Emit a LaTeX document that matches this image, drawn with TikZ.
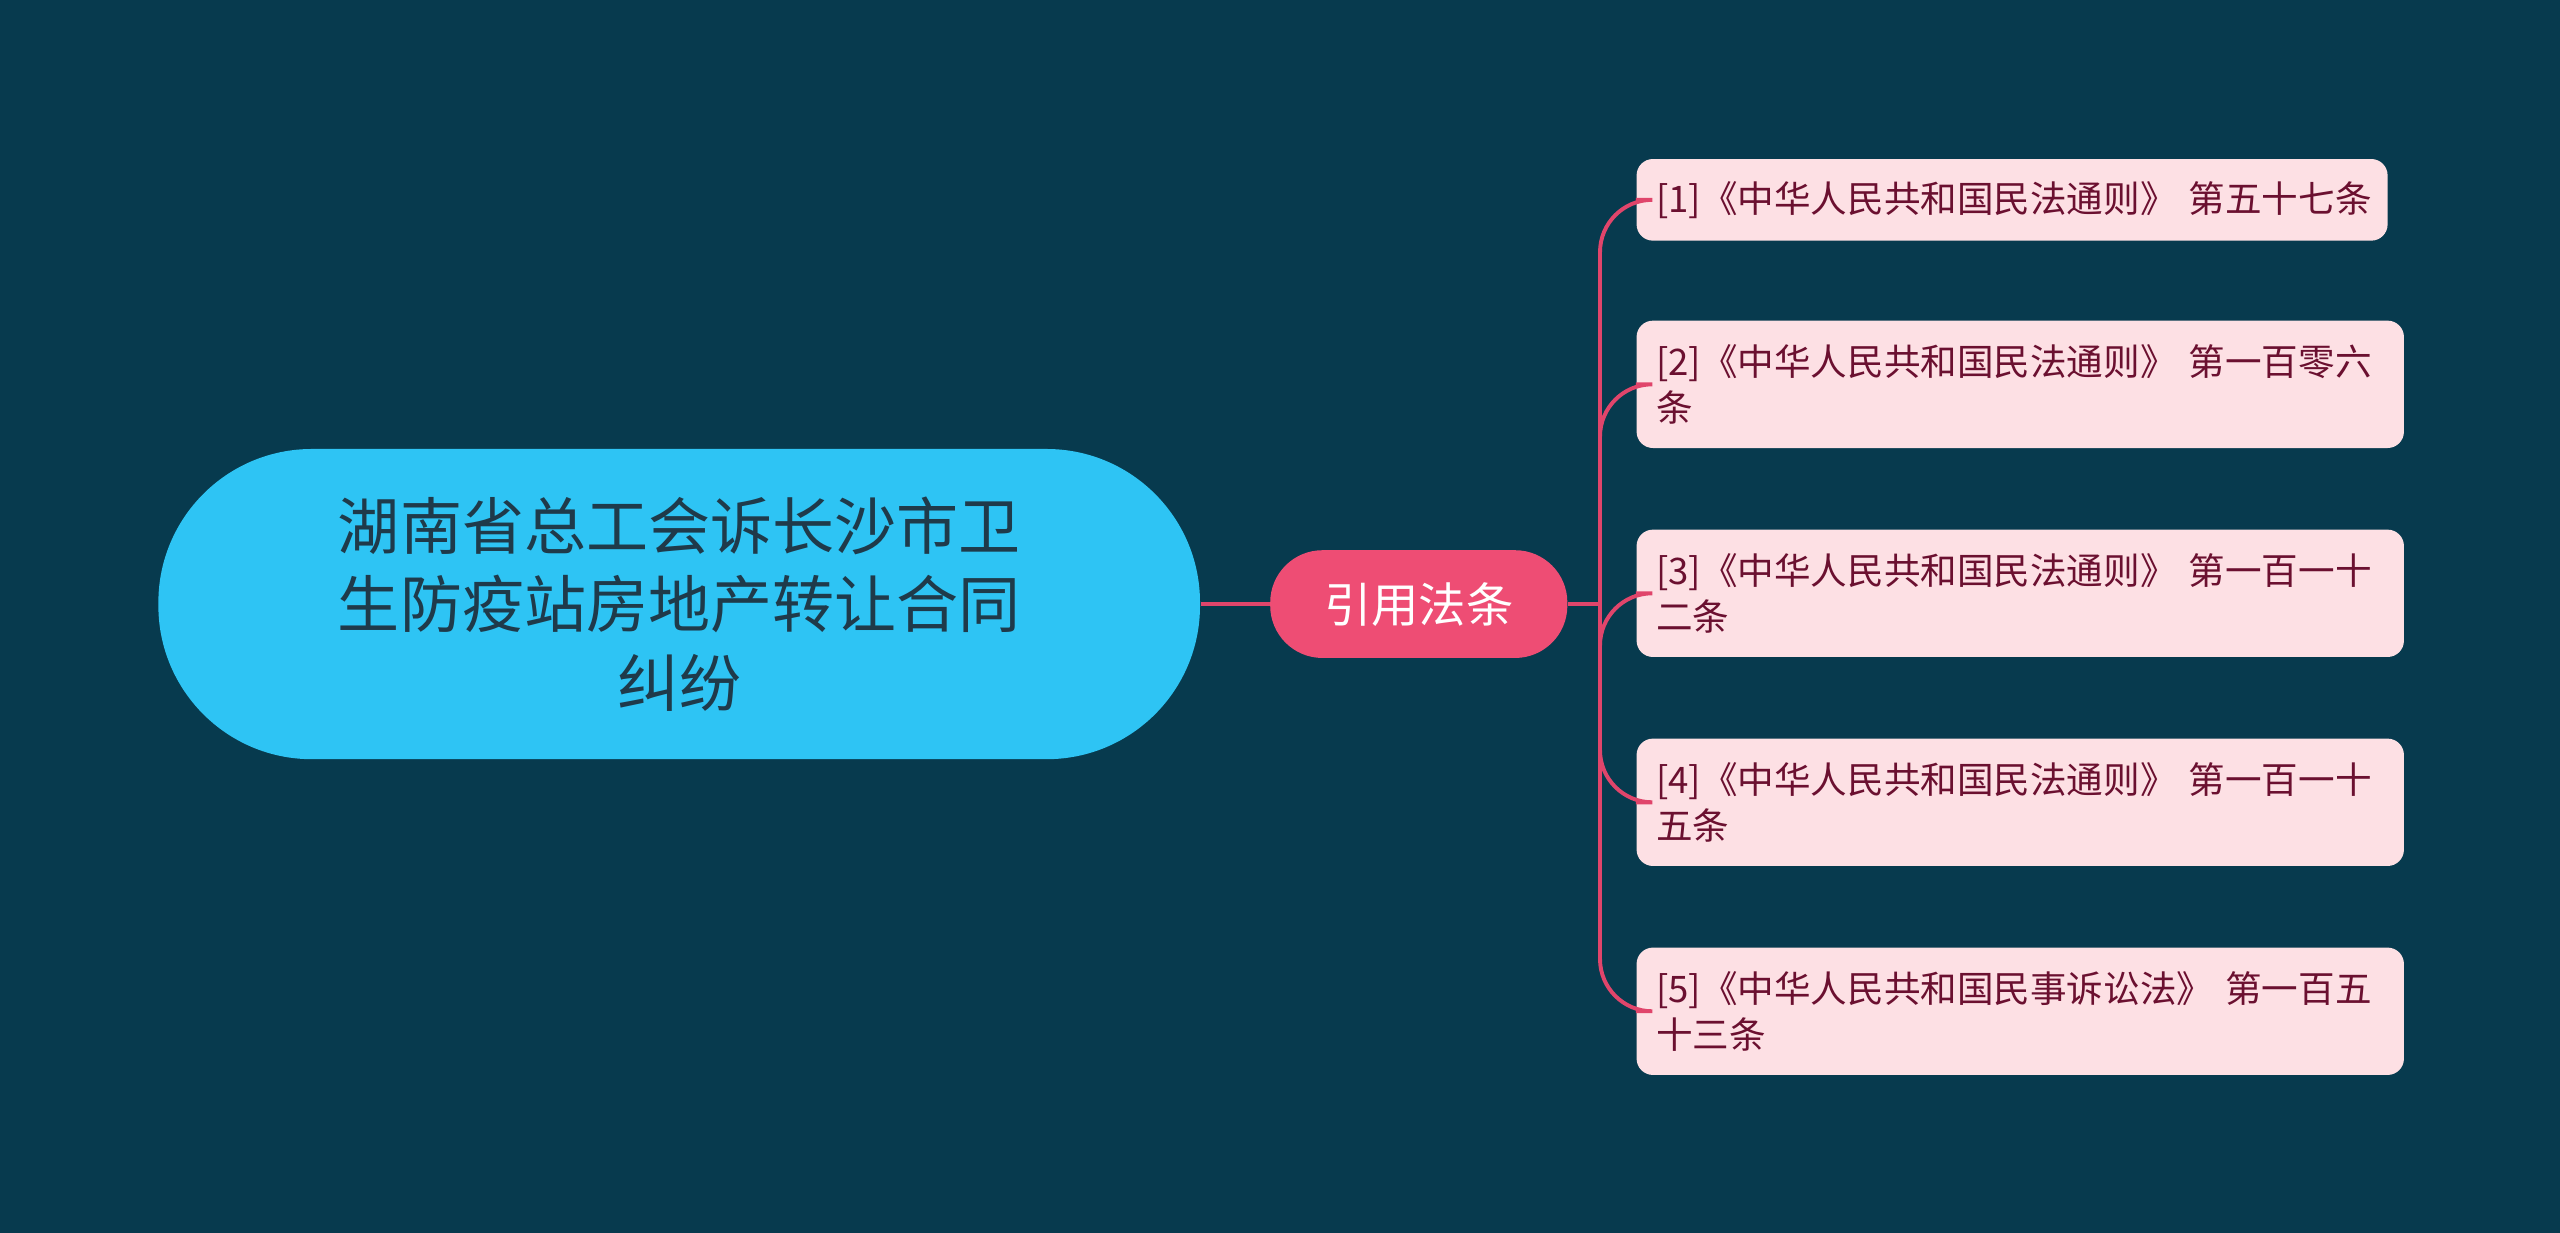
\documentclass[tikz,border=0pt]{standalone}
\usepackage{fontspec}
\setmainfont{Noto Sans CJK SC}
\begin{document}
\begin{tikzpicture}[x=0.5pt,y=-0.5pt,
  leaf/.style={draw=none,fill=leafpink,rounded corners=5pt,anchor=north west,minimum height=#1,text width=223pt,align=left,inner xsep=6pt,font=\fontsize{11.2}{14}\selectfont,text=leaftext},
  conn/.style={draw=linecol,line width=1.2pt}]
\definecolor{bg}{HTML}{073A4E}
\definecolor{rootcol}{HTML}{2EC4F4}
\definecolor{midcol}{HTML}{EE4D74}
\definecolor{leafpink}{HTML}{FDE0E4}
\definecolor{leaftext}{HTML}{6B1030}
\definecolor{linecol}{HTML}{E0456B}
\definecolor{roottext}{HTML}{1F3A4A}
\fill[bg] (0,0) rectangle (1568,755);
\useasboundingbox (0,0) rectangle (1568,755);
\node[fill=rootcol,rounded corners=47pt,minimum width=319pt,minimum height=95pt,align=center,text=roottext,font=\fontsize{19}{24}\selectfont] (root) at (416,370) {湖南省总工会诉长沙市卫\\生防疫站房地产转让合同\\纠纷};
\node[fill=midcol,rounded corners=16pt,minimum width=91pt,minimum height=33pt,text=white,font=\fontsize{14.5}{17}\selectfont] (mid) at (869,370) {引用法条};
\node[leaf=25pt,text width=218pt] (l1) at (1002,97) {\mbox{[1]《中华人民共和国民法通则》 第五十七条}};
\node[leaf=39pt] (l2) at (1002,196) {[2]《中华人民共和国民法通则》 第一百零六\\条};
\node[leaf=39pt] (l3) at (1002,324) {[3]《中华人民共和国民法通则》 第一百一十\\二条};
\node[leaf=39pt] (l4) at (1002,452) {[4]《中华人民共和国民法通则》 第一百一十\\五条};
\node[leaf=39pt] (l5) at (1002,580) {[5]《中华人民共和国民事诉讼法》 第一百五\\十三条};
\coordinate (sp) at (980,370);
\draw[conn] (root.east) -- (mid.west);
\draw[conn] (mid.east) -- (sp);
\foreach \l in {l1,l2,l3,l4,l5}
  \draw[conn,rounded corners=16pt] (sp) |- (\l.west);
\end{tikzpicture}
\end{document}
